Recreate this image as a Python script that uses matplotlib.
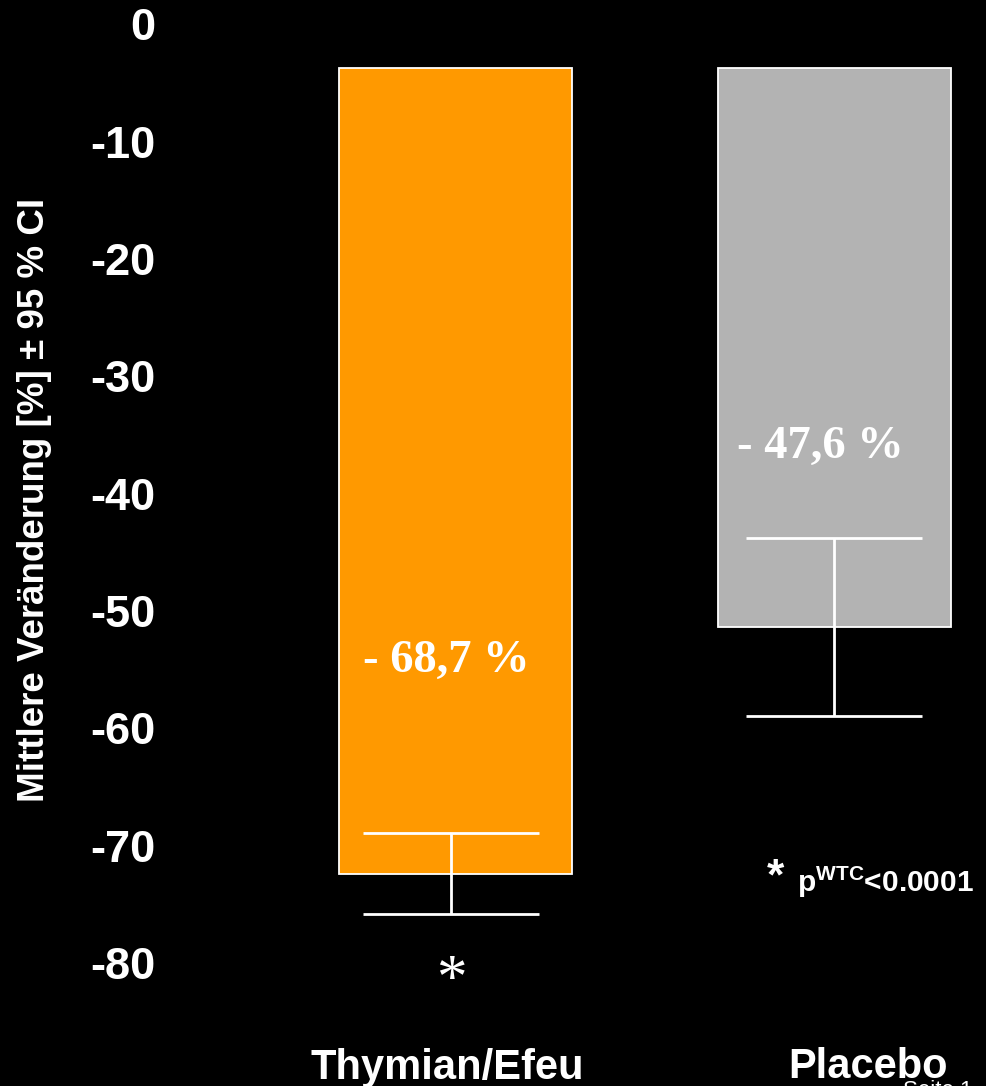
import matplotlib
matplotlib.use("Agg")
import matplotlib.pyplot as plt

# ---- data ----
categories = ["Thymian/Efeu", "Placebo"]
mean_change = [-68.7, -47.6]          # mean change in %
ci_upper = [-65.2, -40.0]             # upper 95 % CI bound
ci_lower = [-72.1, -55.2]             # lower 95 % CI bound
baseline = -3.75                      # bars start slightly below 0 in the original
value_labels = ["- 68,7 %", "- 47,6 %"]
ytick_values = [0, -10, -20, -30, -40, -50, -60, -70, -80]
ytick_labels = ["0", "-10", "-20", "-30", "-40", "-50", "-60", "-70", "-80"]
bar_colors = ["#FF9900", "#B3B3B3"]
ylabel = "Mittlere Veränderung [%] ± 95 % CI"
pvalue_text = r"p$^{\mathrm{WTC}}$<0.0001"

plt.rcParams["font.family"] = ["Liberation Sans", "DejaVu Sans"]
plt.rcParams["font.weight"] = "bold"
plt.rcParams["mathtext.fontset"] = "custom"
plt.rcParams["mathtext.rm"] = "Liberation Sans:bold"
plt.rcParams["mathtext.it"] = "Liberation Sans:bold"
plt.rcParams["mathtext.bf"] = "Liberation Sans:bold"

W, H = 987, 1086
PPU = 11.73           # pixels per y unit
Y0 = 24.5             # pixel row of value 0
AX_LEFT, AX_BOTTOM = 165, 1035
XC0, XUNIT = 455.5, 379.0

fig = plt.figure(figsize=(W / 100, H / 100), dpi=100, facecolor="black")
ax = fig.add_axes([AX_LEFT / W, (H - AX_BOTTOM) / H, (W - AX_LEFT) / W, AX_BOTTOM / H])
ax.set_facecolor("black")
ax.set_ylim(-(AX_BOTTOM - Y0) / PPU, Y0 / PPU)
ax.set_xlim(-(XC0 - AX_LEFT) / XUNIT, (W - XC0) / XUNIT)
for s in ax.spines.values():
    s.set_visible(False)

x = list(range(len(categories)))
ax.bar(x, mean_change, bottom=baseline, width=0.615, color=bar_colors,
       edgecolor="white", linewidth=1.3, zorder=2)

centers = [baseline + m for m in mean_change]
yerr = [[m - lo for m, lo in zip(mean_change, ci_lower)],
        [hi - m for m, hi in zip(mean_change, ci_upper)]]
ax.errorbar([xi - 0.012 * (1 - xi) for xi in x], centers, yerr=yerr, fmt="none",
            ecolor="white", elinewidth=2.0, capsize=63.5, capthick=2.0, zorder=3)

# value labels inside the bars
label_pos = [(-0.024, -54.25), (0.962, -36.05)]
for (lx, ly), txt in zip(label_pos, value_labels):
    ax.text(lx, ly, txt, ha="center", va="center", color="white",
            fontsize=33.5, fontweight="bold", family="Liberation Serif", zorder=4)

# significance asterisk under the first bar
ax.text(-0.012, -81.6, "*", ha="center", va="center", color="white",
        fontsize=44, fontweight="normal", family="Liberation Serif")

ax.set_yticks(ytick_values)
ax.set_yticklabels(ytick_labels)
ax.tick_params(axis="y", length=0, pad=7, labelsize=32.5, labelcolor="white")
ax.set_xticks([-0.021, 1.088])
ax.set_xticklabels(categories)
ax.tick_params(axis="x", length=0, pad=9, labelsize=30, labelcolor="white")

fig.text(35 / W, 1 - 500 / H, ylabel, rotation=90, ha="center", va="center",
         color="white", fontsize=26.5, fontweight="bold")

# p-value note
fig.text(767 / W, 1 - 889 / H, "*", ha="left", va="baseline", color="white",
         fontsize=32, fontweight="bold")
fig.text(797 / W, 1 - 892 / H, pvalue_text, ha="left", va="baseline", color="white",
         fontsize=21.5, fontweight="bold")

fig.text(903 / W, 1 - 1080 / H, "Seite 1", ha="left", va="top", color="white",
         fontsize=16, fontweight="normal")

fig.savefig("out.png", dpi=100, facecolor="black")
